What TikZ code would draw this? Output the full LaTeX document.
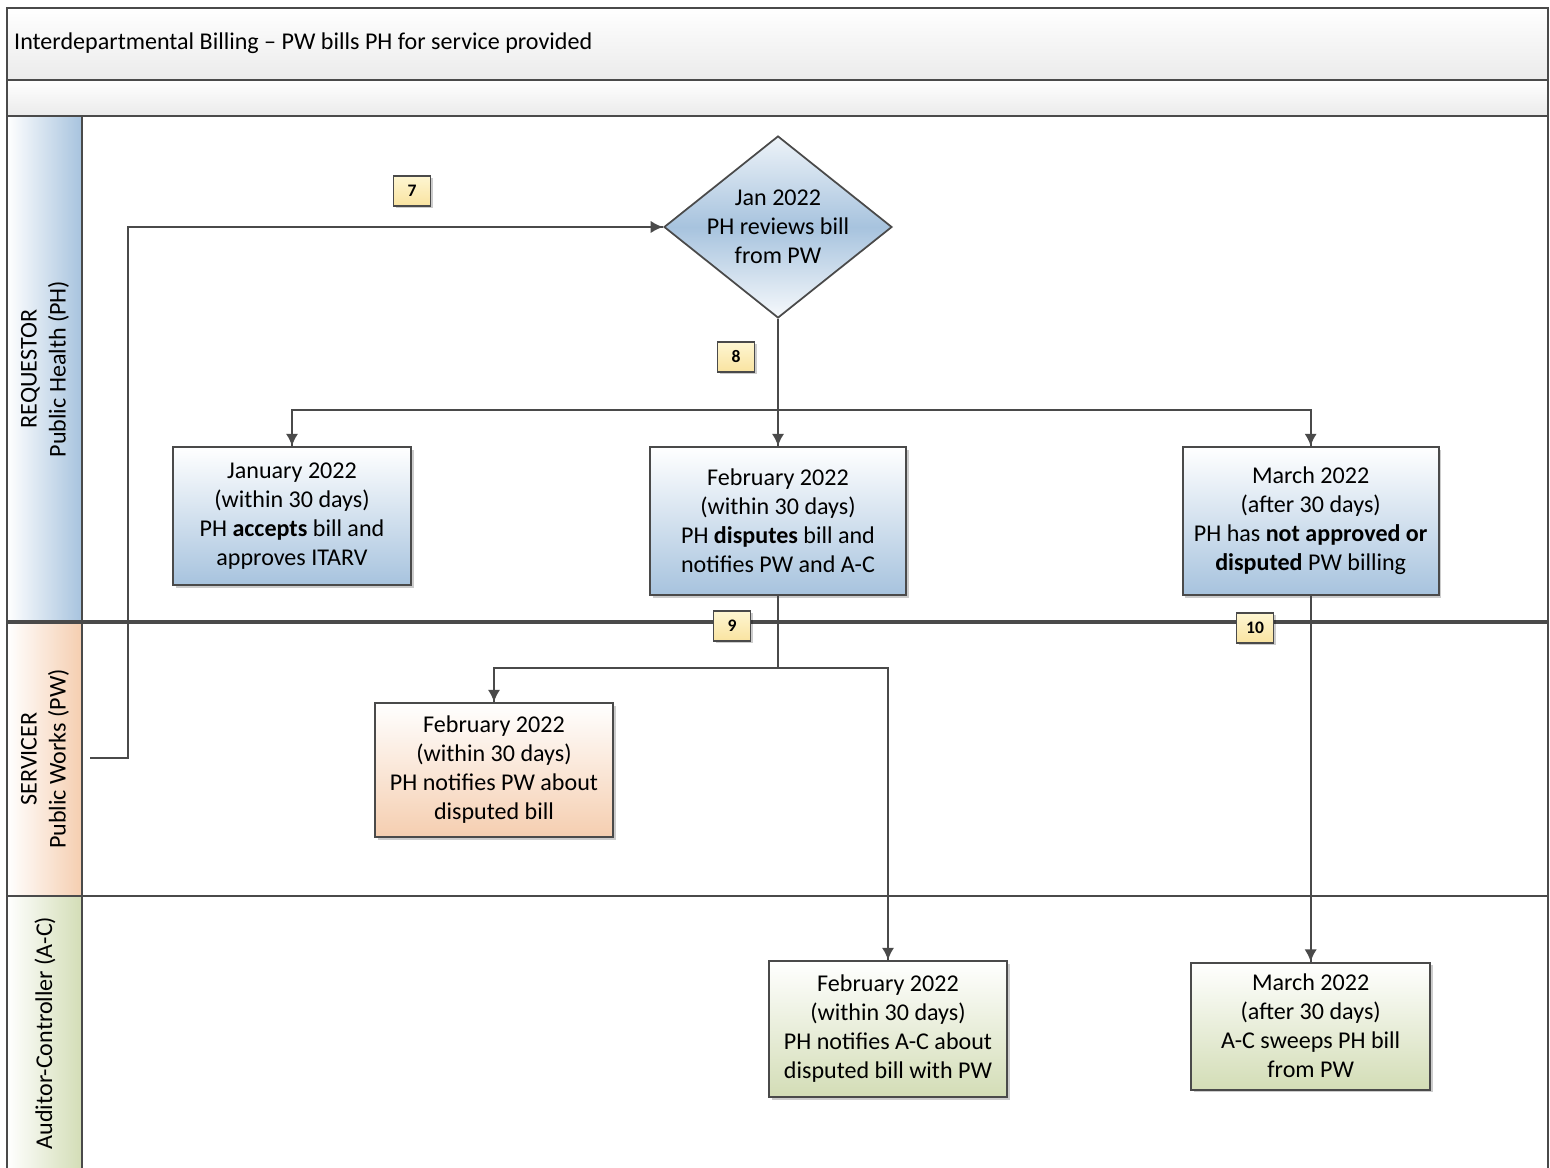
\documentclass[tikz,border=0pt]{standalone}
\usepackage{fontspec}
\setmainfont{Carlito}
\usetikzlibrary{positioning, calc, shapes.geometric, arrows.meta, decorations.markings, shadows}
\definecolor{Frame}{HTML}{4A4A4A}
\definecolor{PHblue}{HTML}{A7C3DE}
\definecolor{PWpeach}{HTML}{F5CEB0}
\definecolor{ACgreen}{HTML}{D3DDB6}
\definecolor{TagTop}{HTML}{FEF6D2}
\definecolor{TagBottom}{HTML}{F9E3A0}
\tikzstyle{Arrow} = [
line width=1.1pt, draw=Frame,
decoration={
markings,
mark=at position 0.9999 with {
\arrow[line width=1.1pt, Frame]{Latex[length=7pt,width=7pt]}}},
preaction = {decorate}]
\tikzstyle{Box} = [draw=Frame, line width=1pt, align=center, inner sep=2pt,
drop shadow={shadow xshift=1.5pt, shadow yshift=-1.5pt, fill=black, opacity=0.2}]
\tikzstyle{PHBox} = [Box, top color=white, bottom color=PHblue]
\tikzstyle{PWBox} = [Box, top color=white, bottom color=PWpeach]
\tikzstyle{ACBox} = [Box, top color=white, bottom color=ACgreen]
\tikzstyle{Decision} = [diamond, draw=Frame, line width=1pt, align=center,
inner sep=-6pt, minimum width=4.56cm, minimum height=3.64cm,
top color=PHblue!20, bottom color=PHblue!10, middle color=PHblue]
\tikzstyle{Tag} = [draw=Frame, line width=1pt, top color=TagTop, bottom color=TagBottom,
minimum width=0.74cm, minimum height=0.6cm, inner sep=0pt,
font=\fontsize{10}{12}\selectfont\bfseries,
drop shadow={shadow xshift=1.2pt, shadow yshift=-1.2pt, fill=black, opacity=0.2}]

\begin{document}
\begin{tikzpicture}[x=0.02cm, y=-0.02cm, font=\fontsize{13.7}{16.5}\selectfont]
    \useasboundingbox (0,0) rectangle (1550,1168);
    % pool header and lanes
    \fill[top color=white, bottom color=black!8] (7,8) rectangle (1548,80);
    \fill[top color=white, bottom color=black!8] (7,80) rectangle (1548,116);
    \fill[left color=white, right color=PHblue] (7,116) rectangle (82,622);
    \fill[left color=white, right color=PWpeach] (7,622) rectangle (82,896);
    \fill[left color=white, right color=ACgreen] (7,896) rectangle (82,1172);
    \draw[Frame, line width=1pt] (7,1172) -- (7,8) -- (1548,8) -- (1548,1172);
    \draw[Frame, line width=1pt] (7,80) -- (1548,80) (7,116) -- (1548,116)
        (7,896) -- (1548,896) (82,116) -- (82,1172);
    \draw[Frame, line width=1.8pt] (7,622) -- (1548,622);
    \node[anchor=west] (title) at (8,43) {Interdepartmental Billing – PW bills PH for service provided};
    \node[rotate=90, align=center] (ph) at (45,369) {REQUESTOR\\Public Health (PH)};
    \node[rotate=90, align=center] (pw) at (45,759) {SERVICER\\Public Works (PW)};
    \node[rotate=90] (ac) at (45,1033) {Auditor-Controller (A-C)};
    % steps
    \node[Decision] (1) at (778,227) {Jan 2022\\PH reviews bill\\from PW};
    \node[PHBox, minimum width=4.76cm, minimum height=2.76cm] (2) at (292,516)
        {January 2022\\(within 30 days)\\PH \textbf{accepts} bill and\\approves ITARV};
    \node[PHBox, minimum width=5.12cm, minimum height=2.96cm] (3) at (778,521)
        {February 2022\\(within 30 days)\\PH \textbf{disputes} bill and\\notifies PW and A-C};
    \node[PHBox, minimum width=5.12cm, minimum height=2.96cm, right=5.5cm of 3] (4)
        {March 2022\\(after 30 days)\\PH has \textbf{not approved or}\\\textbf{disputed} PW billing};
    \node[PWBox, minimum width=4.76cm, minimum height=2.68cm] (5) at (494,770)
        {February 2022\\(within 30 days)\\PH notifies PW about\\disputed bill};
    \node[ACBox, minimum width=4.76cm, minimum height=2.72cm] (6) at (888,1029)
        {February 2022\\(within 30 days)\\PH notifies A-C about\\disputed bill with PW};
    \node[ACBox, minimum width=4.78cm, minimum height=2.54cm, below=7.32cm of 4] (7)
        {March 2022\\(after 30 days)\\A-C sweeps PH bill\\from PW};
    \coordinate (s) at (90,758);
    % flow
    \draw[Arrow] (s) -- (128,758) |- (1.west);
    \draw[Arrow] (1.south) -- ++(0,91) -| (2.north);
    \draw[Arrow] (1.south) -- (3.north);
    \draw[Arrow] (1.south) -- ++(0,91) -| (4.north);
    \draw[Arrow] (3.south) -- ++(0,72) -| (5.north);
    \draw[Arrow] (3.south) -- ++(0,72) -| (6.north);
    \draw[Arrow] (4.south) -- (7.north);
    % step numbers
    \node[Tag] (t7) at (412,191) {7};
    \node[Tag] (t8) at (736,357) {8};
    \node[Tag] (t9) at (732,626) {9};
    \node[Tag] (t10) at (1255,628) {10};
\end{tikzpicture}
\end{document}
